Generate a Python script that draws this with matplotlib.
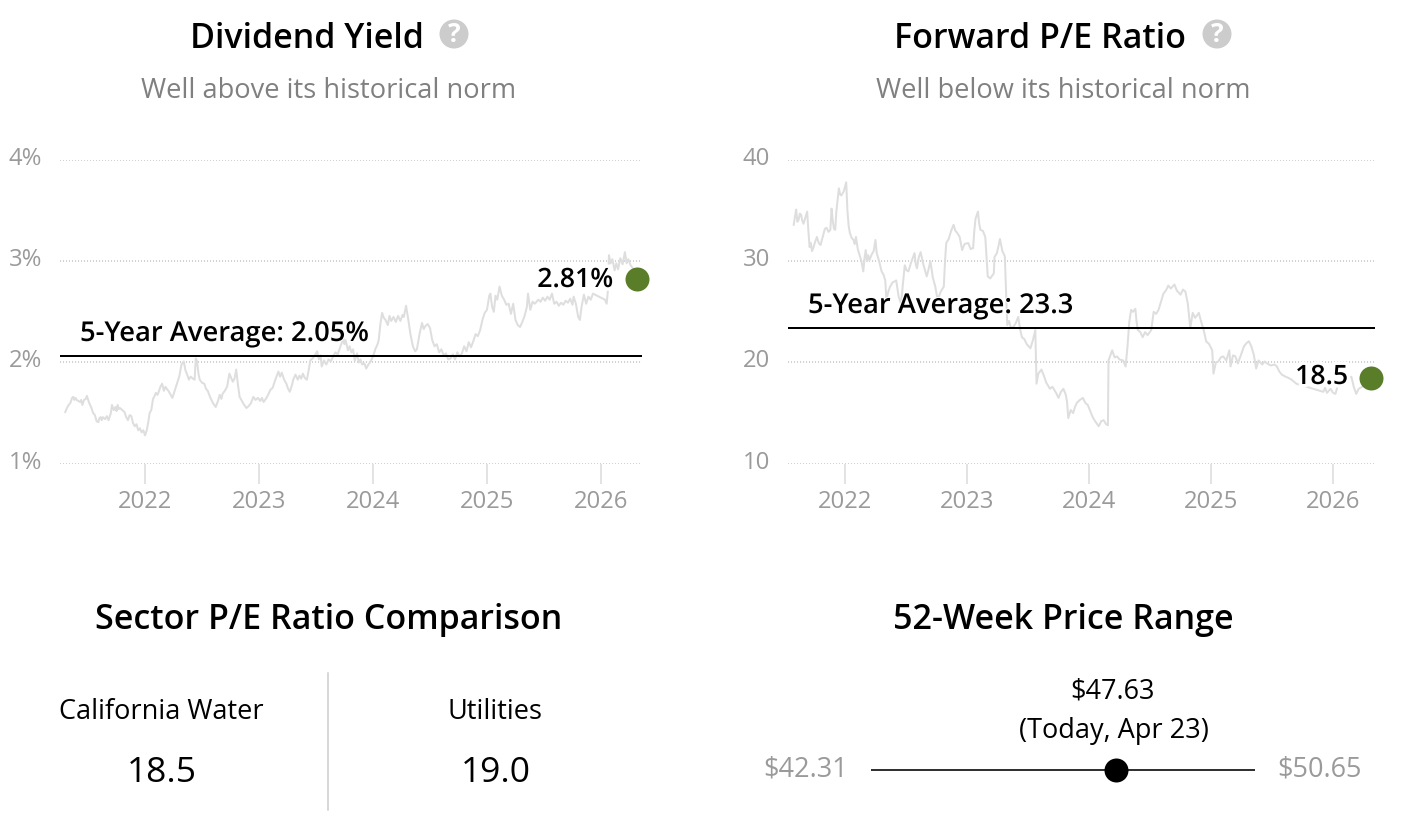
import matplotlib
matplotlib.use("Agg")
import matplotlib.pyplot as plt
import matplotlib.patheffects as pe
from matplotlib.patches import Circle
from matplotlib.transforms import ScaledTranslation

plt.rcParams['font.family'] = ['Open Sans', 'DejaVu Sans']

W, H = 1414, 830
PX = 72 / 100  # points per pixel at dpi 100

# ---------- data ----------
year_ticks = [2022, 2023, 2024, 2025, 2026]
dy_ticks = [1, 2, 3, 4]
dy_tick_labels = ['1%', '2%', '3%', '4%']
pe_ticks = [10, 20, 30, 40]
pe_tick_labels = ['10', '20', '30', '40']

dy_points = [
 (2021.30,1.51),(2021.315,1.55),(2021.33,1.58),(2021.345,1.60),(2021.36,1.65),(2021.37,1.66),(2021.38,1.63),(2021.39,1.65),(2021.40,1.63),(2021.415,1.62),
 (2021.43,1.61),(2021.44,1.63),(2021.45,1.58),(2021.465,1.63),(2021.48,1.64),(2021.49,1.67),(2021.51,1.60),(2021.53,1.55),(2021.545,1.50),(2021.56,1.48),
 (2021.575,1.42),(2021.59,1.41),(2021.60,1.45),(2021.61,1.46),(2021.62,1.43),(2021.63,1.46),(2021.65,1.44),(2021.665,1.47),(2021.68,1.43),(2021.70,1.50),
 (2021.71,1.58),(2021.725,1.53),(2021.74,1.56),(2021.75,1.52),(2021.76,1.58),(2021.77,1.54),(2021.78,1.55),(2021.80,1.53),(2021.82,1.51),(2021.835,1.46),
 (2021.85,1.43),(2021.865,1.48),(2021.88,1.47),(2021.895,1.40),(2021.91,1.37),(2021.925,1.39),(2021.94,1.33),(2021.955,1.35),(2021.97,1.31),(2021.985,1.33),
 (2022.00,1.28),(2022.015,1.33),(2022.03,1.42),(2022.04,1.50),(2022.055,1.53),(2022.07,1.64),(2022.08,1.66),(2022.095,1.70),(2022.11,1.68),(2022.12,1.71),
 (2022.135,1.76),(2022.15,1.79),(2022.165,1.72),(2022.18,1.76),(2022.19,1.74),(2022.205,1.72),(2022.225,1.68),(2022.24,1.65),(2022.26,1.72),(2022.28,1.79),
 (2022.30,1.86),(2022.32,1.98),(2022.34,2.01),(2022.355,1.92),(2022.37,1.88),(2022.385,1.83),(2022.40,1.86),(2022.42,1.84),(2022.435,1.83),(2022.445,2.04),
 (2022.455,2.02),(2022.47,1.88),(2022.48,1.83),(2022.50,1.80),(2022.52,1.79),(2022.535,1.74),(2022.55,1.72),(2022.57,1.66),(2022.595,1.60),(2022.62,1.56),
 (2022.64,1.62),(2022.655,1.68),(2022.67,1.64),(2022.68,1.69),(2022.70,1.72),(2022.72,1.76),(2022.74,1.89),(2022.755,1.85),(2022.77,1.81),(2022.785,1.84),
 (2022.80,1.93),(2022.815,1.78),(2022.83,1.66),(2022.85,1.62),(2022.87,1.58),(2022.89,1.55),(2022.91,1.57),(2022.93,1.60),(2022.95,1.66),(2022.97,1.63),
 (2022.99,1.65),(2023.01,1.62),(2023.025,1.65),(2023.04,1.61),(2023.06,1.64),(2023.08,1.68),(2023.10,1.73),(2023.12,1.75),(2023.14,1.82),(2023.17,1.91),
 (2023.185,1.86),(2023.20,1.90),(2023.22,1.83),(2023.24,1.79),(2023.255,1.74),(2023.27,1.71),(2023.29,1.78),(2023.30,1.83),(2023.32,1.88),(2023.34,1.83),
 (2023.355,1.87),(2023.37,1.84),(2023.385,1.89),(2023.40,1.85),(2023.42,1.83),(2023.435,1.92),(2023.45,2.02),(2023.47,2.04),(2023.49,2.07),(2023.51,2.11),
 (2023.525,2.03),(2023.54,2.07),(2023.55,1.96),(2023.57,2.02),(2023.59,1.98),(2023.61,2.03),(2023.63,2.01),(2023.65,2.06),(2023.67,2.10),(2023.69,2.08),
 (2023.715,2.16),(2023.74,2.24),(2023.75,2.18),(2023.76,2.22),(2023.78,2.12),(2023.795,2.16),(2023.81,2.10),(2023.825,2.13),(2023.84,2.02),(2023.85,2.05),
 (2023.86,2.09),(2023.875,2.00),(2023.89,2.03),(2023.905,1.98),(2023.925,1.99),(2023.94,1.94),(2023.96,1.98),(2023.98,2.01),(2024.00,2.06),(2024.02,2.13),
 (2024.04,2.18),(2024.05,2.22),(2024.065,2.38),(2024.08,2.49),(2024.095,2.44),(2024.11,2.42),(2024.13,2.37),(2024.145,2.46),(2024.16,2.41),(2024.18,2.45),
 (2024.20,2.40),(2024.22,2.46),(2024.24,2.41),(2024.26,2.47),(2024.27,2.45),(2024.29,2.56),(2024.31,2.42),(2024.33,2.27),(2024.35,2.16),(2024.37,2.11),
 (2024.385,2.13),(2024.41,2.29),(2024.43,2.39),(2024.445,2.33),(2024.46,2.36),(2024.48,2.38),(2024.50,2.34),(2024.52,2.22),(2024.54,2.16),(2024.56,2.18),
 (2024.58,2.10),(2024.60,2.13),(2024.62,2.07),(2024.64,2.09),(2024.66,2.03),(2024.68,2.04),(2024.70,2.08),(2024.72,2.03),(2024.74,2.10),(2024.76,2.06),
 (2024.78,2.09),(2024.80,2.16),(2024.82,2.11),(2024.84,2.20),(2024.86,2.15),(2024.88,2.21),(2024.90,2.28),(2024.92,2.26),(2024.94,2.32),(2024.96,2.42),
 (2024.98,2.49),(2025.00,2.52),(2025.02,2.66),(2025.03,2.68),(2025.045,2.55),(2025.06,2.50),(2025.075,2.66),(2025.09,2.62),(2025.11,2.75),(2025.13,2.66),
 (2025.15,2.62),(2025.17,2.57),(2025.19,2.58),(2025.21,2.48),(2025.23,2.58),(2025.25,2.42),(2025.27,2.37),(2025.29,2.35),(2025.31,2.40),(2025.33,2.46),
 (2025.35,2.55),(2025.36,2.68),(2025.38,2.52),(2025.40,2.60),(2025.42,2.58),(2025.45,2.62),(2025.47,2.60),(2025.49,2.64),(2025.51,2.61),(2025.53,2.65),
 (2025.55,2.62),(2025.57,2.68),(2025.59,2.58),(2025.61,2.60),(2025.63,2.56),(2025.65,2.59),(2025.67,2.57),(2025.69,2.61),(2025.71,2.59),(2025.73,2.63),
 (2025.75,2.57),(2025.76,2.65),(2025.78,2.58),(2025.80,2.45),(2025.815,2.42),(2025.83,2.55),(2025.85,2.67),(2025.87,2.58),(2025.89,2.65),(2025.91,2.62),
 (2025.93,2.68),(2026.035,2.62),(2026.05,2.58),(2026.06,2.70),(2026.07,3.06),(2026.085,2.98),(2026.10,3.02),(2026.12,2.91),(2026.135,2.98),(2026.15,2.92),
 (2026.17,3.03),(2026.19,2.97),(2026.21,3.09),(2026.225,2.98),(2026.24,3.02),(2026.26,2.96),(2026.28,2.93),(2026.30,2.90),(2026.32,2.82),
]
dy_dates = [p[0] for p in dy_points]
dy_values = [p[1] for p in dy_points]
dy_average = 2.06
dy_current = 2.82
dy_current_date = 2026.32

pe_points = [
 (2021.58,33.6),(2021.59,34.4),(2021.60,35.1),(2021.61,33.9),(2021.62,34.1),(2021.63,34.7),(2021.64,34.6),(2021.65,34.0),(2021.66,33.7),(2021.675,34.3),
 (2021.69,34.9),(2021.70,33.0),(2021.71,31.4),(2021.72,31.8),(2021.73,31.0),(2021.74,31.3),(2021.755,31.9),(2021.77,32.4),(2021.785,31.8),(2021.80,31.6),
 (2021.82,32.5),(2021.835,33.2),(2021.85,33.3),(2021.865,32.9),(2021.88,33.1),(2021.89,35.2),(2021.90,34.0),(2021.91,33.2),(2021.92,33.1),(2021.93,35.0),
 (2021.95,37.2),(2021.96,36.6),(2021.97,36.5),(2021.99,36.9),(2022.01,37.8),(2022.02,35.0),(2022.03,33.5),(2022.04,32.8),(2022.055,32.3),(2022.07,32.1),
 (2022.08,31.7),(2022.09,32.4),(2022.105,31.2),(2022.12,30.6),(2022.135,30.0),(2022.15,29.0),(2022.16,30.3),(2022.17,31.1),(2022.18,30.0),(2022.19,30.6),
 (2022.20,30.1),(2022.22,30.7),(2022.235,31.0),(2022.25,32.1),(2022.26,30.8),(2022.28,30.0),(2022.30,29.0),(2022.315,28.7),(2022.33,28.1),(2022.34,26.2),
 (2022.355,27.0),(2022.37,27.5),(2022.39,27.9),(2022.42,28.1),(2022.44,26.5),(2022.46,25.8),(2022.475,27.8),(2022.49,29.6),(2022.505,29.1),(2022.52,29.0),
 (2022.54,29.8),(2022.57,30.8),(2022.58,29.7),(2022.59,29.3),(2022.605,30.4),(2022.62,30.9),(2022.64,29.8),(2022.67,28.5),(2022.685,29.2),(2022.70,30.0),
 (2022.72,28.4),(2022.74,27.5),(2022.75,26.8),(2022.76,26.2),(2022.785,27.0),(2022.81,27.5),(2022.82,30.0),(2022.83,31.8),(2022.85,32.2),(2022.87,33.0),
 (2022.89,33.6),(2022.905,33.0),(2022.92,32.8),(2022.94,32.4),(2022.96,31.1),(2022.98,31.7),(2023.01,31.8),(2023.03,31.2),(2023.05,31.3),(2023.06,33.0),
 (2023.07,34.2),(2023.09,34.9),(2023.10,33.7),(2023.11,33.1),(2023.13,33.0),(2023.15,32.4),(2023.16,30.5),(2023.17,28.5),(2023.19,28.3),(2023.22,28.8),
 (2023.225,30.4),(2023.245,30.8),(2023.26,31.6),(2023.27,32.2),(2023.29,31.0),(2023.31,30.5),(2023.33,23.7),(2023.345,24.1),(2023.36,23.4),(2023.38,23.5),
 (2023.40,23.9),(2023.42,24.5),(2023.435,23.3),(2023.45,22.5),(2023.47,22.3),(2023.49,21.8),(2023.52,21.4),(2023.54,22.2),(2023.56,23.2),(2023.57,17.9),
 (2023.585,18.9),(2023.61,19.3),(2023.63,18.7),(2023.65,18.0),(2023.68,17.4),(2023.70,17.6),(2023.73,17.0),(2023.75,16.5),(2023.77,17.1),(2023.79,17.4),
 (2023.81,16.8),(2023.82,16.1),(2023.83,14.5),(2023.85,15.3),(2023.87,15.0),(2023.885,15.6),(2023.90,16.0),(2023.925,16.3),(2023.95,16.5),(2023.97,16.0),
 (2023.99,15.8),(2024.01,15.2),(2024.03,14.6),(2024.05,14.2),(2024.08,13.7),(2024.10,14.2),(2024.12,14.3),(2024.14,13.9),(2024.155,13.8),(2024.16,20.2),
 (2024.19,21.2),(2024.21,20.5),(2024.23,20.6),(2024.25,20.3),(2024.28,20.2),(2024.30,19.6),(2024.315,21.5),(2024.33,24.0),(2024.345,25.2),(2024.36,25.0),
 (2024.38,25.3),(2024.39,24.0),(2024.40,23.2),(2024.42,23.0),(2024.44,22.5),(2024.46,23.0),(2024.48,22.7),(2024.51,23.2),(2024.53,25.0),(2024.55,24.8),
 (2024.57,25.2),(2024.59,26.0),(2024.61,26.8),(2024.63,27.1),(2024.65,27.6),(2024.67,27.3),(2024.70,27.7),(2024.72,27.1),(2024.75,26.7),(2024.77,27.2),
 (2024.79,27.0),(2024.81,25.8),(2024.83,23.4),(2024.85,24.9),(2024.87,24.4),(2024.90,24.9),(2024.92,24.0),(2024.94,23.2),(2024.96,22.1),(2024.985,21.8),
 (2025.01,21.2),(2025.02,18.9),(2025.04,20.0),(2025.06,20.1),(2025.08,20.5),(2025.10,20.6),(2025.125,20.2),(2025.15,21.2),(2025.16,19.6),(2025.18,20.7),
 (2025.20,20.6),(2025.22,19.9),(2025.25,20.9),(2025.27,21.6),(2025.29,21.9),(2025.31,22.1),(2025.33,21.6),(2025.35,20.8),(2025.37,19.4),(2025.39,20.2),
 (2025.42,19.8),(2025.44,20.1),(2025.46,19.9),(2025.49,19.7),(2025.52,19.8),(2025.54,19.6),(2025.56,19.1),(2025.58,18.8),(2025.61,18.6),(2025.63,18.5),
 (2025.66,18.3),(2025.70,17.9),(2025.92,17.1),(2025.935,17.5),(2025.95,17.0),(2025.98,17.4),(2026.00,17.0),(2026.02,16.9),(2026.05,18.2),(2026.12,18.4),
 (2026.15,18.6),(2026.17,17.6),(2026.19,16.9),(2026.21,17.4),(2026.24,17.6),(2026.31,18.5),
]
pe_dates = [p[0] for p in pe_points]
pe_values = [p[1] for p in pe_points]
pe_average = 23.4
pe_current = 18.5
pe_current_date = 2026.31

company_pe = 18.5
sector_pe = 19.0
price_low, price_today, price_high = 42.31, 47.63, 50.65

GRID = '#c4c4c4'
TICK = '#dddddd'
LINE = '#dedede'
GREY = '#9a9a9a'
GREEN = '#5a7d2a'


def axes_px(fig, x0, x1, ytop, ybot):
    return fig.add_axes([x0 / W, 1 - ybot / H, (x1 - x0) / W, (ybot - ytop) / H])


def chart(fig, x0, x1, xlim, ylim, yticks, ylabels, dates, values, avg, avg_text,
          avg_xy, cur_date, cur, cur_text, cur_x):
    ax = axes_px(fig, x0, x1, 160, 463.7)
    ax.set_xlim(*xlim)
    ax.set_ylim(*ylim)
    ax.patch.set_alpha(0)
    for s in ax.spines.values():
        s.set_visible(False)
    ax.set_yticks(yticks, ylabels)
    ax.set_xticks(year_ticks, [str(y) for y in year_ticks])
    ax.tick_params(axis='y', length=0, pad=13, labelsize=17.2, labelcolor=GREY)
    ax.tick_params(axis='x', length=20 * PX, width=1.6 * PX, color=TICK, pad=4.5,
                   labelsize=17.2, labelcolor=GREY)
    shift = ScaledTranslation(0, 4 / 100, fig.dpi_scale_trans)
    for lbl in ax.get_yticklabels():
        lbl.set_transform(lbl.get_transform() + shift)
    ax.grid(axis='y', color=GRID, lw=1.5 * PX, linestyle=(0, (0.7, 1.3)))
    ax.grid(axis='x', visible=False)
    ax.set_axisbelow(True)
    ax.plot(dates, values, color=LINE, lw=2 * PX, zorder=2, clip_on=False)
    ax.plot(xlim, [avg, avg], color='black', lw=2 * PX, zorder=3, clip_on=False,
            solid_capstyle='butt')
    halo = [pe.withStroke(linewidth=7 * PX, foreground='white')]
    ax.annotate(avg_text, xy=avg_xy, xycoords='figure pixels', fontsize=19.7,
                fontweight='semibold', color='black', va='center', ha='left',
                zorder=4, path_effects=[pe.withStroke(linewidth=2 * PX, foreground='white')])
    ax.annotate(cur_text, xy=cur_x, xycoords='figure pixels', fontsize=19.2,
                fontweight='semibold', color='black', va='center', ha='right',
                zorder=4, path_effects=halo)
    ax.plot([cur_date], [cur], 'o', ms=24 * PX, color=GREEN, mec='none', zorder=5, clip_on=False)
    return ax


fig = plt.figure(figsize=(W / 100, H / 100), dpi=100, facecolor='white')

chart(fig, 60, 642, (2021.254, 2026.36), (1, 4), dy_ticks, dy_tick_labels, dy_dates, dy_values,
      dy_average, '5-Year Average: 2.05%', (80, H - 334), dy_current_date, dy_current, '2.81%',
      (613, H - 280))
chart(fig, 788, 1375, (2021.533, 2026.344), (10, 40), pe_ticks, pe_tick_labels, pe_dates, pe_values,
      pe_average, '5-Year Average: 23.3', (808, H - 306), pe_current_date, pe_current, '18.5',
      (1348, H - 377))

# overlay in pixel coordinates for text
ov = fig.add_axes([0, 0, 1, 1], zorder=-1)
ov.set_xlim(0, W)
ov.set_ylim(H, 0)
ov.axis('off')


def title(x, y, s, size=24.5):
    ov.text(x, y, s, fontsize=size, fontweight='semibold', ha='center', va='center', color='black')


title(306.5, 39, 'Dividend Yield')
title(1040.5, 39, 'Forward P/E Ratio')
for cx in (454, 1217):
    ov.add_patch(Circle((cx, 34), 14.5, fc='#cccccc', ec='none'))
    ov.text(cx, 35, '?', color='white', fontsize=19, fontweight='bold', ha='center', va='center')
ov.text(328.5, 91, 'Well above its historical norm', fontsize=19.6, color='#808080', ha='center', va='center')
ov.text(1063, 91, 'Well below its historical norm', fontsize=19.6, color='#808080', ha='center', va='center')

title(329, 620, 'Sector P/E Ratio Comparison')
title(1063, 620, '52-Week Price Range')

ov.text(161.5, 712, 'California Water', fontsize=19.5, color='black', ha='center', va='center')
ov.text(495.5, 712, 'Utilities', fontsize=19.5, color='black', ha='center', va='center')
ov.text(161.5, 773, f'{company_pe:.1f}', fontsize=25.5, color='black', ha='center', va='center')
ov.text(495.5, 773, f'{sector_pe:.1f}', fontsize=25.5, color='black', ha='center', va='center')
ov.plot([328, 328], [673, 810], color='#cccccc', lw=1.5 * PX)

ov.text(1113, 691.5, f'${price_today:.2f}', fontsize=19.5, color='black', ha='center', va='center')
ov.text(1113.5, 731, '(Today, Apr 23)', fontsize=19.5, color='black', ha='center', va='center')
ov.text(848, 769.5, f'${price_low:.2f}', fontsize=19.5, color=GREY, ha='right', va='center')
ov.text(1277, 769.5, f'${price_high:.2f}', fontsize=19.5, color=GREY, ha='left', va='center')

rng = axes_px(fig, 871, 1255, 760, 780)
rng.set_xlim(price_low, price_high)
rng.set_ylim(-1, 1)
rng.axis('off')
rng.plot([price_low, price_high], [0, 0], color='black', lw=1.6 * PX, solid_capstyle='butt')
rng.plot([price_today], [0], 'o', ms=24 * PX, color='black', mec='none', clip_on=False)

fig.savefig('out.png', dpi=100)
